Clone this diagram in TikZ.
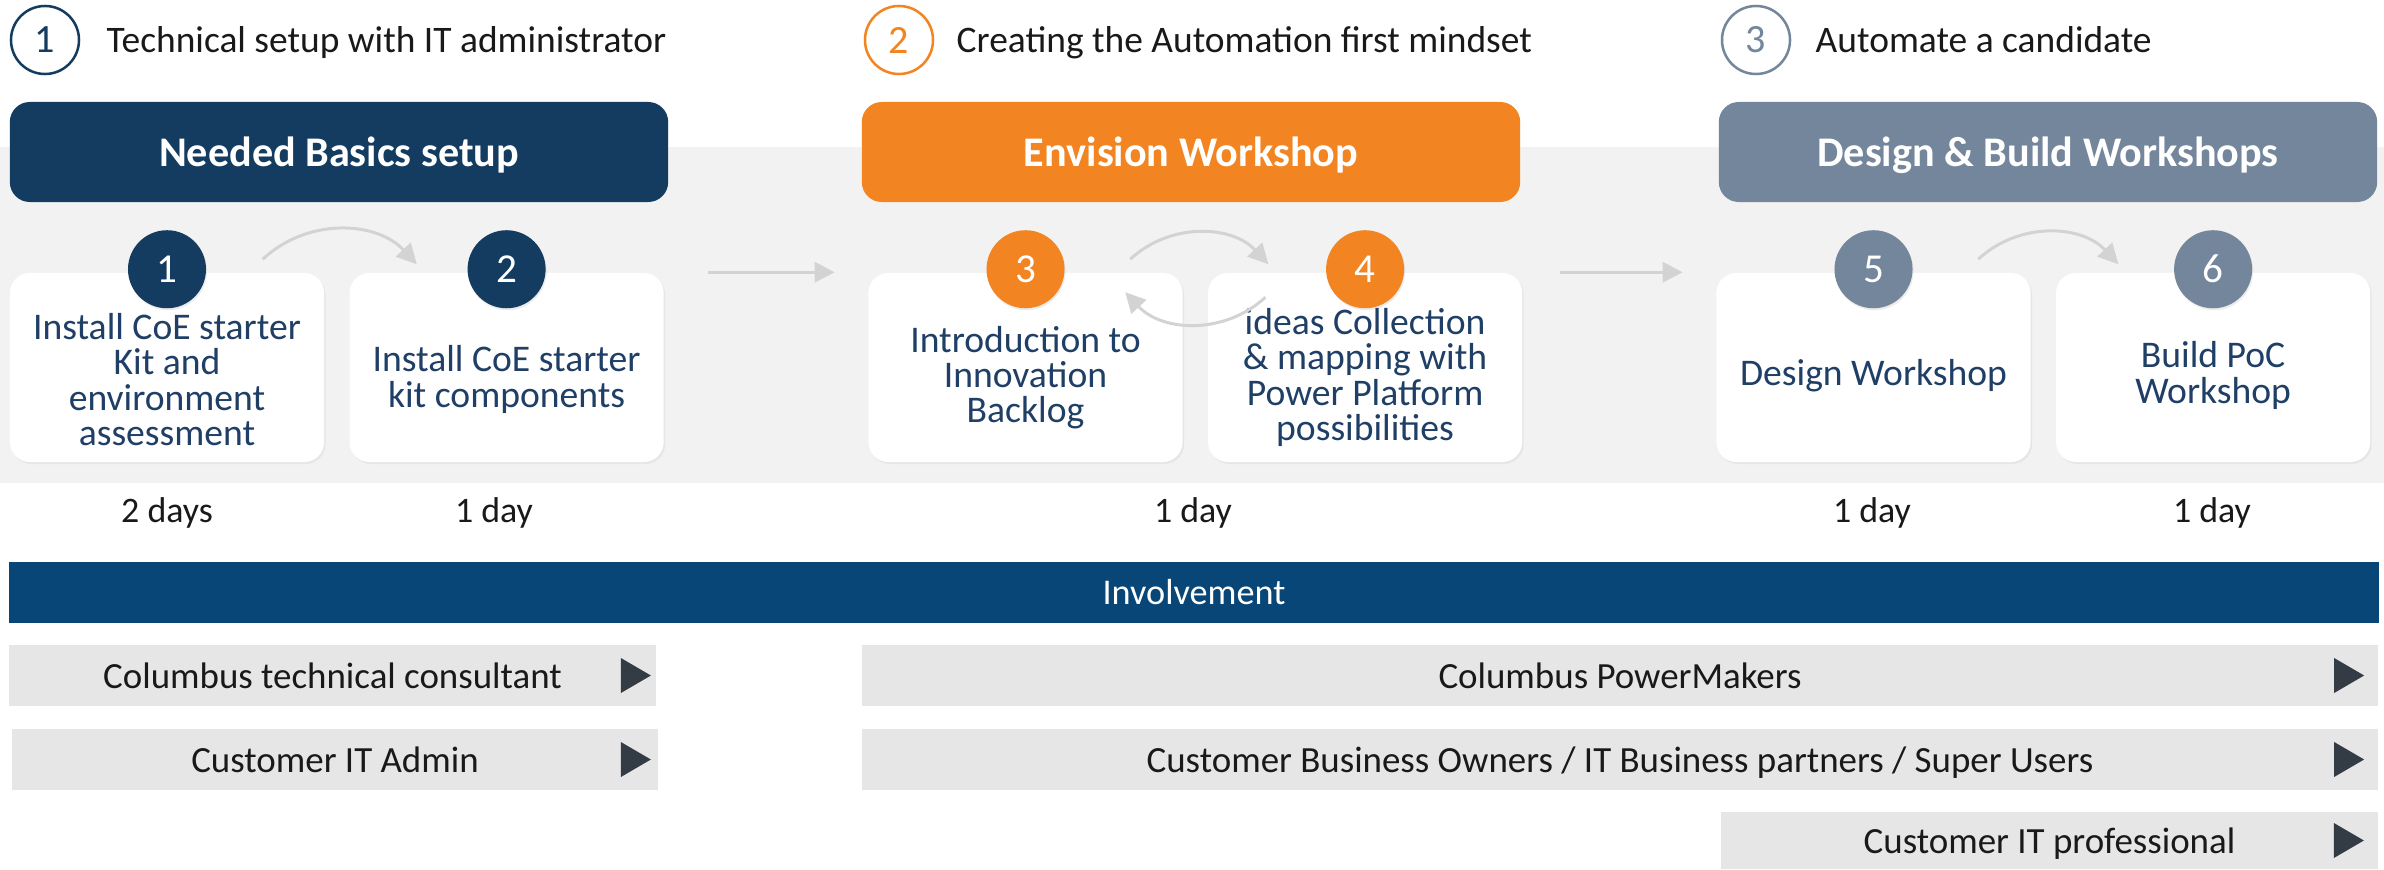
\documentclass[tikz,border=0pt]{standalone}
\usepackage{fontspec}
\setmainfont{Carlito}
\usetikzlibrary{arrows.meta,positioning,shadows}
\definecolor{navy}{HTML}{133C60}
\definecolor{orng}{HTML}{F28522}
\definecolor{slate}{HTML}{74869C}
\definecolor{invblue}{HTML}{084677}
\definecolor{cardblue}{HTML}{1F3F66}
\definecolor{bandgray}{HTML}{F2F2F2}
\definecolor{rowgray}{HTML}{E6E6E6}
\definecolor{trigray}{HTML}{333B45}
\definecolor{flowgray}{HTML}{D3D3D3}

\begin{document}
\begin{tikzpicture}[x=0.01cm,y=-0.01cm,
    hcirc/.style={circle,draw,line width=0.025cm,minimum size=0.68cm,inner sep=0pt,font=\fontsize{11.4}{12}\selectfont},
    htext/.style={anchor=base west,inner sep=0pt,text=black!90,font=\fontsize{10.65}{12}\selectfont},
    phase/.style={rounded corners=0.2cm,minimum width=6.58cm,minimum height=1cm,text depth=0pt,text=white,font=\bfseries\fontsize{12}{14}\selectfont},
    card/.style={fill=white,rounded corners=0.2cm,minimum width=3.14cm,minimum height=1.89cm,drop shadow={opacity=0.1,shadow xshift=0.015cm,shadow yshift=-0.02cm}},
    cardtext/.style={align=center,inner sep=0pt,text=cardblue,font=\fontsize{10.7}{10}\selectfont},
    stepc/.style={circle,minimum size=0.78cm,inner sep=0pt,text=white,font=\fontsize{11.7}{12}\selectfont,drop shadow={opacity=0.15,shadow xshift=0.01cm,shadow yshift=-0.02cm}},
    days/.style={text=black!90,font=\fontsize{10.2}{12}\selectfont},
    role/.style={fill=rowgray,minimum height=0.61cm,inner sep=0pt,text depth=0pt,text=black!90,font=\fontsize{10.5}{12}\selectfont},
    flow/.style={draw=flowgray,line width=0.03cm,-{Triangle[length=0.2cm,width=0.2cm]}},
  ]
  \useasboundingbox (0,0) rectangle (2384,870);
  \fill[white] (0,0) rectangle (2384,870);
  \fill[bandgray] (0,147) rectangle (2384,483);

  % phase headers
  \node[hcirc,draw=navy,text=navy] (hc1) at (45,40) {1};
  \node[htext] (ht1) at (106,53) {Technical setup with IT administrator};
  \node[hcirc,draw=orng,text=orng] (hc2) at (899,40) {2};
  \node[htext] (ht2) at (956,53) {Creating the Automation first mindset};
  \node[hcirc,draw=slate,text=slate] (hc3) at (1756,40) {3};
  \node[htext] (ht3) at (1815,53) {Automate a candidate};

  \node[phase,fill=navy] (b1) at (339,152) {Needed Basics setup};
  \node[phase,fill=orng] (b2) at (1191,152) {Envision Workshop};
  \node[phase,fill=slate] (b3) at (2048,152) {Design \& Build Workshops};

  % cards
  \node[card] (c1) at (167,367.5) {};
  \node[card,right=0.24cm of c1] (c2) {};
  \node[card] (c3) at (1025.5,367.5) {};
  \node[card,right=0.24cm of c3] (c4) {};
  \node[card] (c5) at (1873.5,367.5) {};
  \node[card,right=0.24cm of c5] (c6) {};

  \node[cardtext] (t1) at ([yshift=-0.12cm]c1.center) {Install CoE starter\\Kit and\\environment\\assessment};
  \node[cardtext] (t2) at ([yshift=-0.12cm]c2.center) {Install CoE starter\\kit components};
  \node[cardtext] (t3) at ([yshift=-0.1cm]c3.center) {Introduction to\\Innovation\\Backlog};
  \node[cardtext] (t4) at ([yshift=-0.1cm]c4.center) {ideas Collection\\\& mapping with\\Power Platform\\possibilities};
  \node[cardtext] (t5) at ([yshift=-0.08cm]c5.center) {Design Workshop};
  \node[cardtext] (t6) at ([yshift=-0.08cm]c6.center) {Build PoC\\Workshop};

  % arrows
  \draw[flow,shorten <=0.44cm,shorten >=0.33cm] (c2.north east) -- (c3.north west);
  \draw[flow,shorten <=0.37cm,shorten >=0.33cm] (c4.north east) -- (c5.north west);

  \node[stepc,fill=navy] (s1) at ([yshift=0.03cm]c1.north) {1};
  \node[stepc,fill=navy] (s2) at ([yshift=0.03cm]c2.north) {2};
  \node[stepc,fill=orng] (s3) at ([yshift=0.03cm]c3.north) {3};
  \node[stepc,fill=orng] (s4) at ([yshift=0.03cm]c4.north) {4};
  \node[stepc,fill=slate] (s5) at ([yshift=0.03cm]c5.north) {5};
  \node[stepc,fill=slate] (s6) at ([yshift=0.03cm]c6.north) {6};

  \draw[flow] ([shift={(0.56cm,0.1cm)}]s1.east) to[bend left=45] ([shift={(-0.5cm,0.05cm)}]s2.west);
  \draw[flow] ([shift={(0.65cm,0.1cm)}]s3.east) to[bend left=45] ([shift={(-0.57cm,0.05cm)}]s4.west);
  \draw[flow] ([shift={(-0.6cm,-0.28cm)}]s4.west) to[bend left=45] ([shift={(0.6cm,-0.23cm)}]s3.east);
  \draw[flow] ([shift={(0.65cm,0.1cm)}]s5.east) to[bend left=45] ([shift={(-0.55cm,0.05cm)}]s6.west);

  % durations
  \node[days] (d1) at (167,513) {2 days};
  \node[days] (d2) at (494,513) {1 day};
  \node[days] (d3) at (1193,513) {1 day};
  \node[days] (d4) at (1872,513) {1 day};
  \node[days] (d5) at (2212,513) {1 day};

  % involvement
  \node[fill=invblue,minimum width=23.68cm,minimum height=0.61cm,inner sep=0pt,text=white,font=\fontsize{10.3}{12}\selectfont] (inv) at (1194,592.5) {Involvement};

  \node[role,minimum width=6.47cm] (r1) at (332.5,675.5) {Columbus technical consultant};
  \node[role,minimum width=6.46cm] (r2) at (335,759.5) {Customer IT Admin};
  \node[role,minimum width=15.16cm] (r3) at (1620,675.5) {Columbus PowerMakers};
  \node[role,minimum width=15.16cm] (r4) at (1620,759.5) {Customer Business Owners / IT Business partners / Super Users};
  \node[role,minimum width=6.57cm,minimum height=0.57cm] (r5) at (2049.5,840.5) {Customer IT professional};

  \fill[trigray] ([xshift=-0.06cm]r1.east) -- ++(-30,-17.5) -- ++(0,35) -- cycle;
  \fill[trigray] ([xshift=-0.08cm]r2.east) -- ++(-30,-17.5) -- ++(0,35) -- cycle;
  \fill[trigray] ([xshift=-0.15cm]r3.east) -- ++(-30,-17.5) -- ++(0,35) -- cycle;
  \fill[trigray] ([xshift=-0.15cm]r4.east) -- ++(-30,-17.5) -- ++(0,35) -- cycle;
  \fill[trigray] ([xshift=-0.15cm]r5.east) -- ++(-30,-17.5) -- ++(0,35) -- cycle;
\end{tikzpicture}
\end{document}
